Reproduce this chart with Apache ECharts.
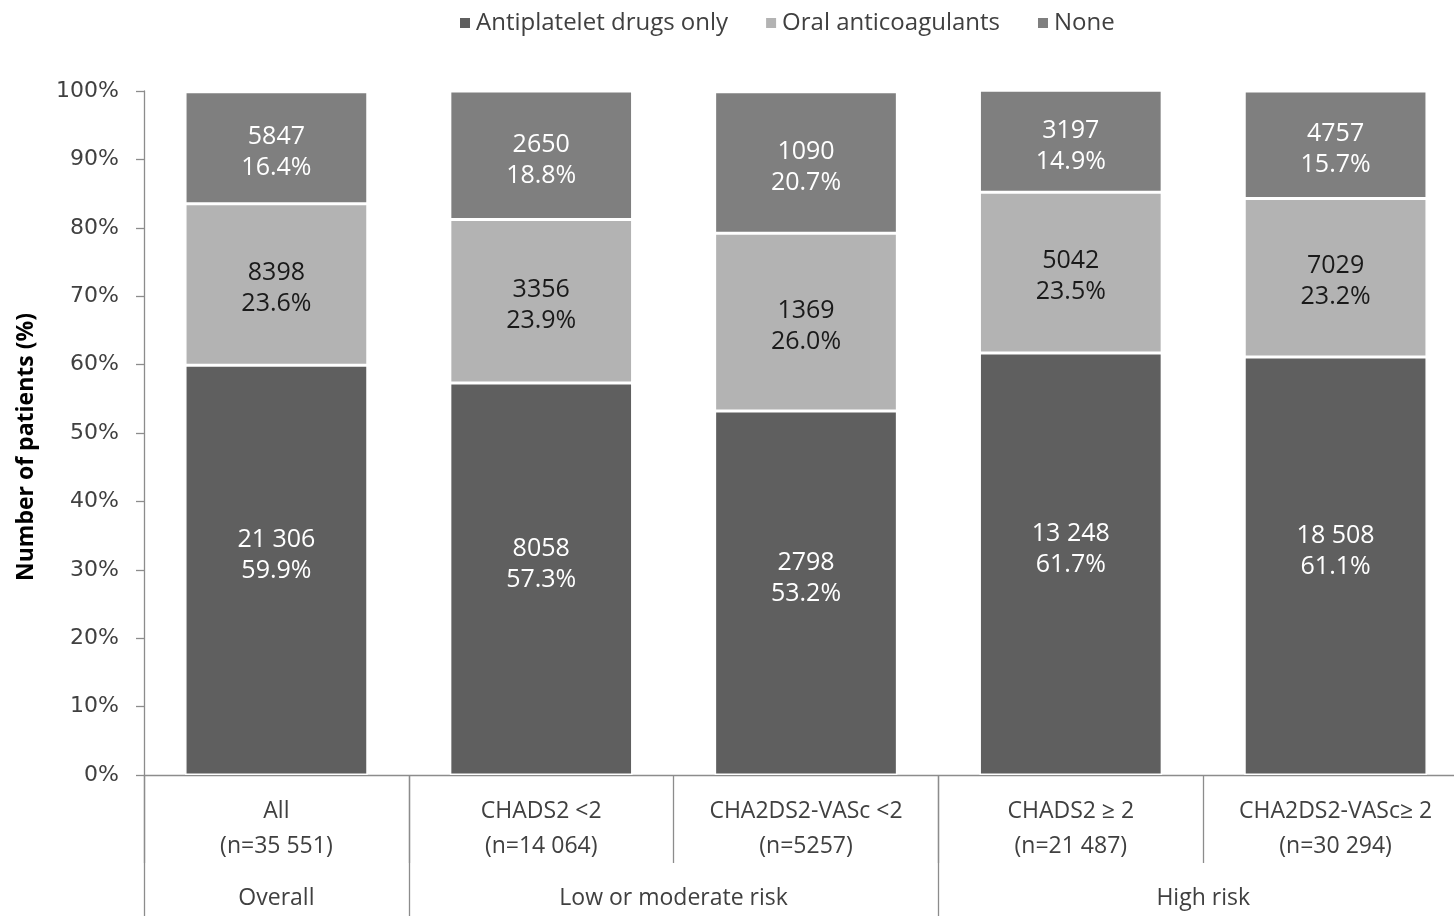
<!DOCTYPE html>
<html>
<head>
<meta charset="utf-8">
<script src="https://cdn.jsdelivr.net/npm/echarts@6/dist/echarts.min.js"></script>
<style>
  html, body { margin: 0; padding: 0; background: #fff; overflow: hidden; }
  #main { width: 1468px; height: 916px; }
</style>
</head>
<body>
<div id="main"></div>
<script>
// categories and groups
var categories = ["All\n(n=35 551)", "CHADS2 <2\n(n=14 064)", "CHA2DS2-VASc <2\n(n=5257)", "CHADS2 ≥ 2\n(n=21 487)", "CHA2DS2-VASc≥ 2\n(n=30 294)"];
var groupNames = ["Overall", "Low or moderate risk", "High risk"];
var groupStart = [0, 1, 3]; // first category index of each group
var groupEnd = [0, 2, 4];

// patient counts
var antiplateletN = [21306, 8058, 2798, 13248, 18508];
var oacN = [8398, 3356, 1369, 5042, 7029];
var noneN = [5847, 2650, 1090, 3197, 4757];

// percentages as printed
var antiplateletPct = [59.9, 57.3, 53.2, 61.7, 61.1];
var oacPct = [23.6, 23.9, 26.0, 23.5, 23.2];
var nonePct = [16.4, 18.8, 20.7, 14.9, 15.7];

var yTicks = [0, 10, 20, 30, 40, 50, 60, 70, 80, 90, 100];

var font = "Open Sans";
var axisGray = "#8c8c8c";

function fmtCount(n) {
  var s = String(n);
  if (n >= 10000) s = s.slice(0, s.length - 3) + " " + s.slice(-3);
  return s;
}

function makeSeries(name, pct, counts, color, labelColor, dy) {
  return {
    name: name,
    type: "bar",
    stack: "total",
    barWidth: "69%",
    data: pct,
    itemStyle: { color: color, borderColor: "#ffffff", borderWidth: 1.5 },
    label: {
      show: true,
      position: "inside",
      offset: [0, dy],
      color: labelColor,
      fontFamily: font,
      fontSize: 25,
      lineHeight: 31,
      formatter: function (p) {
        return fmtCount(counts[p.dataIndex]) + "\n" + pct[p.dataIndex].toFixed(1) + "%";
      }
    },
    emphasis: { disabled: true }
  };
}

var chart = echarts.init(document.getElementById("main"));

var option = {
  animation: false,
  legend: {
    top: 6,
    left: 453,
    itemWidth: 12,
    itemHeight: 12,
    itemGap: 36,
    icon: "rect",
    textStyle: { fontFamily: font, fontSize: 24, color: "#404040" },
    data: ["Antiplatelet drugs only", "Oral anticoagulants", "None"]
  },
  grid: { left: 144, right: 0, top: 91, bottom: 141, containLabel: false },
  xAxis: {
    type: "category",
    data: categories,
    axisLine: { lineStyle: { color: axisGray, width: 1.3 } },
    axisTick: { show: true, length: 88, lineStyle: { color: axisGray, width: 1.3 } },
    axisLabel: {
      interval: 0,
      margin: 19,
      fontFamily: font,
      fontSize: 23,
      lineHeight: 35,
      color: "#404040"
    }
  },
  yAxis: {
    type: "value",
    min: 0,
    max: 100,
    interval: 10,
    name: "Number of patients (%)",
    nameLocation: "middle",
    nameGap: 106,
    nameTextStyle: { fontFamily: font, fontSize: 23, fontWeight: "bold", color: "#000", padding: [0, 28, 0, 0] },
    axisLine: { show: true, lineStyle: { color: axisGray, width: 1.3 } },
    axisTick: { show: true, length: 8, lineStyle: { color: axisGray, width: 1.3 } },
    splitLine: { show: false },
    axisLabel: {
      margin: 25,
      fontFamily: "DejaVu Sans",
      fontSize: 22,
      color: "#404040",
      formatter: function (v) { return yTicks.indexOf(v) >= 0 ? v + "%" : ""; }
    }
  },
  series: [
    makeSeries("Antiplatelet drugs only", antiplateletPct, antiplateletN, "#5f5f5f", "#ffffff", -15),
    makeSeries("Oral anticoagulants", oacPct, oacN, "#b3b3b3", "#1a1a1a", 4),
    makeSeries("None", nonePct, noneN, "#7f7f7f", "#ffffff", 5)
  ]
};

chart.setOption(option);

// group separators and group labels under the category axis
var p0 = chart.convertToPixel({ xAxisIndex: 0 }, 0);
var p1 = chart.convertToPixel({ xAxisIndex: 0 }, 1);
var band = p1 - p0;
var axisY = chart.convertToPixel({ yAxisIndex: 0 }, 0);
var elems = [];
var bounds = [];
for (var g = 0; g < groupNames.length; g++) {
  var left = p0 + (groupStart[g] - 0.5) * band;
  var right = p0 + (groupEnd[g] + 0.5) * band;
  bounds.push(left);
  if (g === groupNames.length - 1) bounds.push(right);
  elems.push({
    type: "text",
    x: (left + right) / 2,
    y: 898,
    style: {
      text: groupNames[g],
      fill: "#404040",
      font: "23px '" + font + "'",
      textAlign: "center",
      textVerticalAlign: "middle"
    }
  });
}
bounds.forEach(function (bx) {
  elems.push({
    type: "line",
    shape: { x1: Math.round(bx) + 0.5, y1: axisY, x2: Math.round(bx) + 0.5, y2: 916 },
    style: { stroke: axisGray, lineWidth: 1.3 }
  });
});
chart.setOption({ graphic: { elements: elems } });
</script>
</body>
</html>
